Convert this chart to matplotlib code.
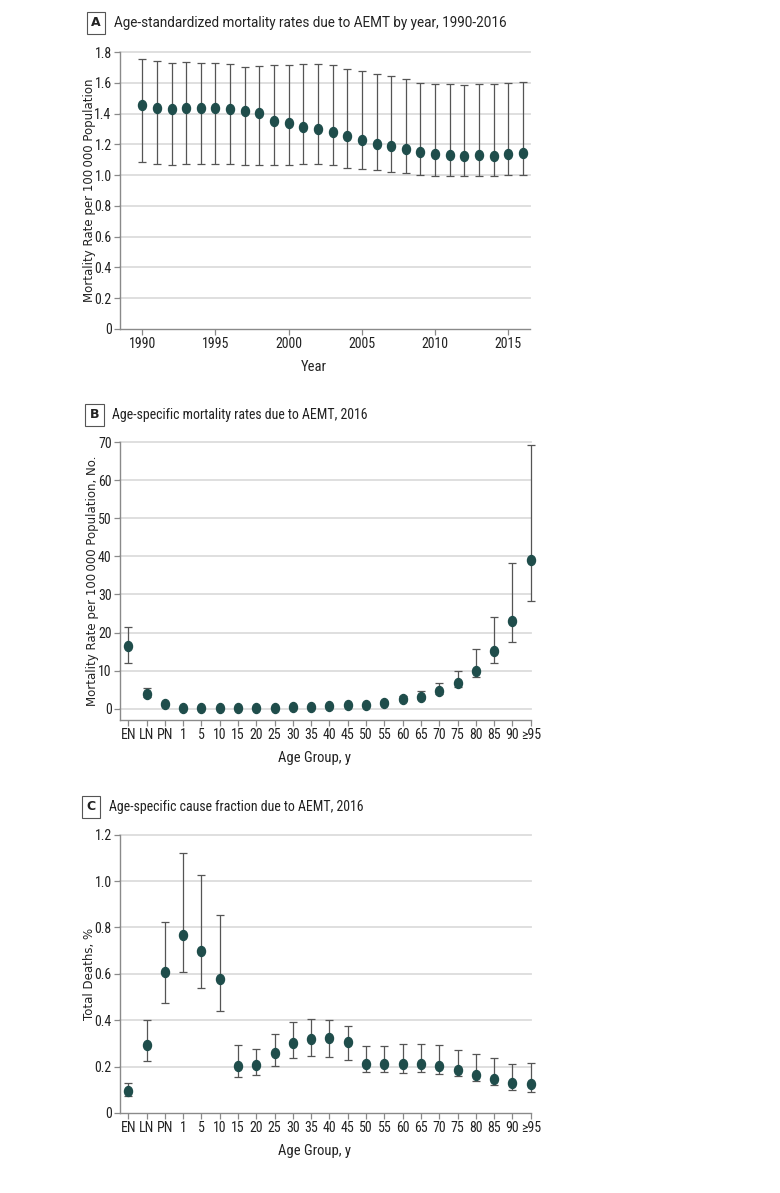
import numpy as np
import matplotlib
matplotlib.use('Agg')
import matplotlib.pyplot as plt
from matplotlib import font_manager
from matplotlib.path import Path
from matplotlib.transforms import Affine2D

# panel A: age-standardized rate by year
years = list(range(1990, 2017))
rate_year = [1.457, 1.438, 1.429, 1.433, 1.433, 1.433, 1.427, 1.414, 1.401, 1.351,
             1.336, 1.315, 1.300, 1.278, 1.252, 1.226, 1.201, 1.190, 1.170, 1.151,
             1.140, 1.129, 1.125, 1.132, 1.125, 1.136, 1.142]
rate_year_lo = [1.086, 1.075, 1.065, 1.069, 1.075, 1.073, 1.069, 1.065, 1.065, 1.065,
                1.065, 1.069, 1.069, 1.065, 1.047, 1.039, 1.032, 1.019, 1.013, 1.000,
                0.996, 0.991, 0.991, 0.994, 0.991, 0.998, 0.998]
rate_year_hi = [1.755, 1.744, 1.731, 1.735, 1.731, 1.731, 1.722, 1.705, 1.712, 1.716,
                1.716, 1.722, 1.722, 1.716, 1.690, 1.679, 1.655, 1.643, 1.623, 1.599,
                1.591, 1.591, 1.586, 1.591, 1.595, 1.599, 1.604]

# panels B and C: by age group, 2016
age_groups = ['EN', 'LN', 'PN', '1', '5', '10', '15', '20', '25', '30', '35', '40',
              '45', '50', '55', '60', '65', '70', '75', '80', '85', '90', '\u226595']
rate_age = [16.4, 3.9, 1.2, 0.12, 0.08, 0.05, 0.09, 0.17, 0.27, 0.4, 0.5, 0.7,
            0.9, 1.05, 1.5, 2.45, 3.15, 4.6, 6.7, 10.0, 15.1, 23.1, 39.1]
rate_age_lo = [12.1, 3.0, 0.9, 0.09, 0.06, 0.04, 0.07, 0.13, 0.21, 0.32, 0.4, 0.56,
               0.72, 0.86, 1.25, 2.0, 2.6, 3.8, 5.7, 8.2, 12.0, 17.6, 28.2]
rate_age_hi = [21.4, 5.3, 1.6, 0.16, 0.1, 0.07, 0.12, 0.22, 0.34, 0.5, 0.62, 0.88,
               1.12, 1.3, 1.9, 3.2, 4.5, 6.6, 9.8, 15.6, 24.1, 38.4, 69.2]

frac_age = [0.095, 0.292, 0.606, 0.766, 0.697, 0.577, 0.201, 0.207, 0.258, 0.301,
            0.318, 0.322, 0.305, 0.213, 0.210, 0.210, 0.210, 0.201, 0.186, 0.164,
            0.147, 0.130, 0.124]
frac_age_lo = [0.075, 0.224, 0.476, 0.610, 0.538, 0.440, 0.154, 0.163, 0.204, 0.236,
               0.245, 0.243, 0.230, 0.176, 0.176, 0.171, 0.178, 0.168, 0.158, 0.137,
               0.119, 0.099, 0.089]
frac_age_hi = [0.131, 0.400, 0.825, 1.122, 1.027, 0.855, 0.292, 0.275, 0.342, 0.394,
               0.404, 0.400, 0.374, 0.288, 0.288, 0.296, 0.299, 0.292, 0.273, 0.255,
               0.235, 0.213, 0.217]

# look for a condensed face, the original uses a narrow font for ticks/titles
fonts = font_manager.fontManager.ttflist
names = {f.name for f in fonts}
narrow, stretch, scale = None, 'normal', 1.0
for cand in ['Liberation Sans Narrow', 'Roboto Condensed', 'Open Sans Condensed',
             'DejaVu Sans Condensed', 'Noto Sans Condensed']:
    if cand in names:
        narrow = cand
        break
if narrow is None:
    for f in fonts:
        if f.name in ['DejaVu Sans', 'Noto Sans', 'Open Sans', 'Roboto'] and \
                str(f.stretch) in ('condensed', 'semi-condensed', 'extra-condensed', '75', '87.5'):
            narrow, stretch = f.name, 'condensed'
            break
if narrow is None:
    narrow, scale = 'Roboto', 0.9
nfam = [narrow, 'DejaVu Sans']
nkw = dict(family=nfam, stretch=stretch)

dot_col = '#1f4d4b'
err_col = '#555555'
grid_col = '#dcdcdc'
spine_col = '#8a8a8a'
txt_col = '#222222'

# slightly tall ellipse marker like the original
ell = Path.unit_circle().transformed(Affine2D().scale(0.8, 1.0))

fig = plt.figure(figsize=(7.8, 11.93), dpi=100)
W, H = 780, 1193


def add_ax(left, top, right, bottom):
    return fig.add_axes([left / W, 1 - bottom / H, (right - left) / W, (bottom - top) / H])


def draw(ax, x, y, lo, hi):
    y = np.array(y)
    yerr = [y - np.array(lo), np.array(hi) - y]
    eb = ax.errorbar(x, y, yerr=yerr, fmt='none', ecolor=err_col, elinewidth=0.9,
                     capsize=3.0, capthick=0.9, zorder=3)
    for a in eb.lines[1] + eb.lines[2]:
        a.set_clip_on(False)
    ax.plot(x, y, linestyle='none', marker=ell, ms=7.2, color=dot_col,
            zorder=4, clip_on=False)


def style(ax):
    for s in ['top', 'right']:
        ax.spines[s].set_visible(False)
    for s in ['left', 'bottom']:
        ax.spines[s].set_color(spine_col)
        ax.spines[s].set_linewidth(1.0)
    ax.tick_params(length=4, width=0.9, color=spine_col, labelcolor=txt_col,
                   labelsize=10 * scale, pad=2)
    for lab in ax.get_xticklabels() + ax.get_yticklabels():
        lab.set_family(nfam)
        lab.set_stretch(stretch)


def grid(ax, vals, x0, x1):
    for v in vals:
        ax.plot([x0, x1], [v, v], color=grid_col, lw=1.3, zorder=1, clip_on=False)


def panel_title(letter, text, x, y, size, **kw):
    fig.text(x, 1 - y / H, letter, fontsize=9, fontweight='bold', color=txt_col,
             ha='center', va='center', family='DejaVu Sans',
             bbox=dict(boxstyle='square,pad=0.35', fc='white', ec='#555555', lw=0.8))
    fig.text(x + 18 / W, 1 - y / H, text, fontsize=size, color=txt_col,
             ha='left', va='center', **kw)


# ---- panel A
axA = add_ax(120, 52, 530, 329)
draw(axA, years, rate_year, rate_year_lo, rate_year_hi)
axA.set_xlim(1988.48, 2016.48)
axA.set_ylim(0, 1.8)
axA.set_yticks(np.arange(0, 1.81, 0.2))
axA.set_yticklabels(['0'] + ['%.1f' % v for v in np.arange(0.2, 1.81, 0.2)])
axA.set_xticks([1990, 1995, 2000, 2005, 2010, 2015])
grid(axA, np.arange(0.2, 1.81, 0.2), 1988.48, 2016.48)
style(axA)
axA.set_xlabel('Year', fontsize=10.5 * scale, color=txt_col, **nkw)
axA.xaxis.set_label_coords(0.473, -0.113)
axA.set_ylabel('Mortality Rate per 100\u2009000 Population', family='DejaVu Sans',
               fontsize=8.5, color=txt_col)
axA.yaxis.set_label_coords(-0.058, 0.5)
panel_title('A', 'Age-standardized mortality rates due to AEMT by year, 1990-2016',
            96 / W, 23, 9.75, family=['Roboto', 'DejaVu Sans'])

# ---- panel B
xs = np.arange(len(age_groups))
axB = add_ax(120, 442.3, 530.7, 720)
draw(axB, xs, rate_age, rate_age_lo, rate_age_hi)
axB.set_xlim(-0.45, 22)
axB.set_ylim(-3, 70)
axB.set_yticks(np.arange(0, 71, 10))
axB.set_xticks(xs)
axB.set_xticklabels(age_groups)
grid(axB, np.arange(0, 71, 10), -0.45, 22)
style(axB)
axB.set_xlabel('Age Group, y', fontsize=10.5 * scale, color=txt_col, **nkw)
axB.xaxis.set_label_coords(0.473, -0.113)
axB.set_ylabel('Mortality Rate per 100\u2009000 Population, No.', family='DejaVu Sans',
               fontsize=8.5, color=txt_col)
axB.yaxis.set_label_coords(-0.052, 0.5)
panel_title('B', 'Age-specific mortality rates due to AEMT, 2016', 94.5 / W, 415,
            10 * scale, **nkw)

# ---- panel C
axC = add_ax(120, 834.7, 530.7, 1113)
draw(axC, xs, frac_age, frac_age_lo, frac_age_hi)
axC.set_xlim(-0.45, 22)
axC.set_ylim(0, 1.2)
axC.set_yticks(np.arange(0, 1.21, 0.2))
axC.set_yticklabels(['0'] + ['%.1f' % v for v in np.arange(0.2, 1.21, 0.2)])
axC.set_xticks(xs)
axC.set_xticklabels(age_groups)
grid(axC, np.arange(0.2, 1.21, 0.2), -0.45, 22)
style(axC)
axC.set_xlabel('Age Group, y', fontsize=10.5 * scale, color=txt_col, **nkw)
axC.xaxis.set_label_coords(0.473, -0.113)
axC.set_ylabel('Total Deaths, %', family='DejaVu Sans', fontsize=8.5, color=txt_col)
axC.yaxis.set_label_coords(-0.058, 0.5)
panel_title('C', 'Age-specific cause fraction due to AEMT, 2016', 91 / W, 807,
            10 * scale, **nkw)

fig.savefig('out.png', dpi=100, facecolor='white')
